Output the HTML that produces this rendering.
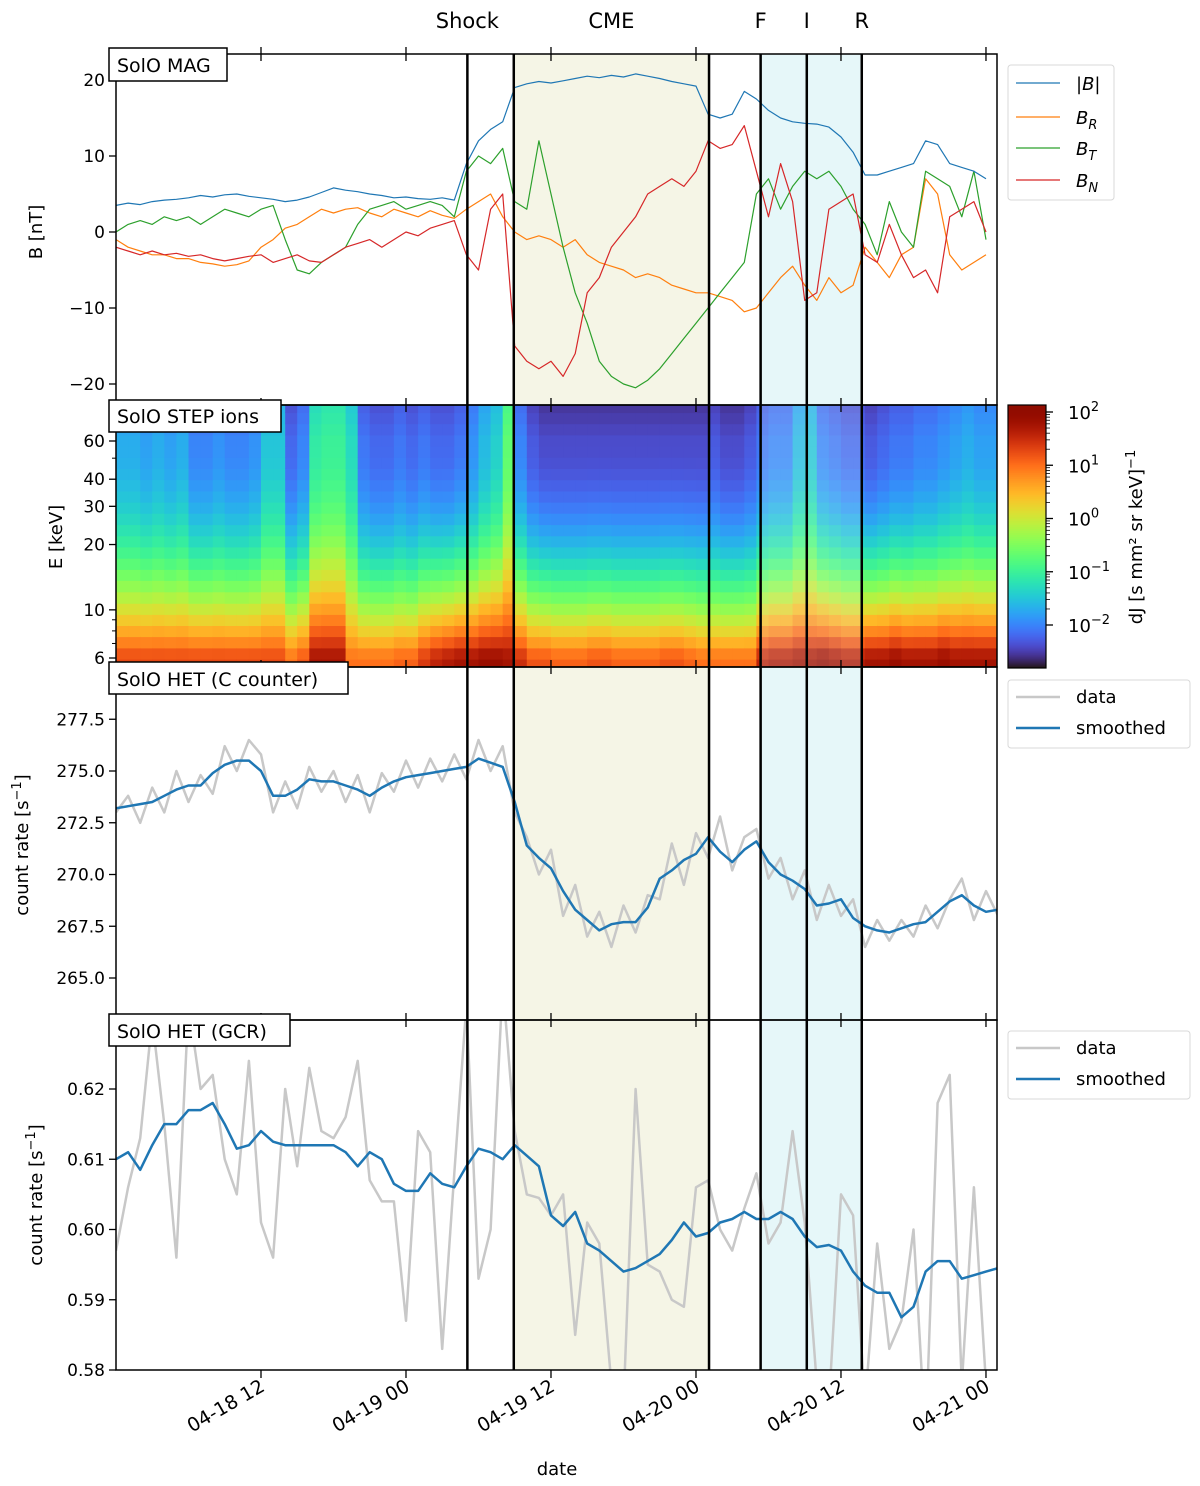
<!DOCTYPE html>
<html><head><meta charset="utf-8"><style>
html,body{margin:0;padding:0;background:#fff}
svg{display:block;font-family:"DejaVu Sans","Liberation Sans",sans-serif}
</style></head><body>
<svg id="fig" width="1200" height="1486" viewBox="0 0 1200 1486" xmlns="http://www.w3.org/2000/svg">
<defs>
<clipPath id="c1"><rect x="116" y="54" width="881" height="351"/></clipPath>
<clipPath id="c2"><rect x="116" y="405" width="881" height="262"/></clipPath>
<clipPath id="c3"><rect x="116" y="667" width="881" height="353"/></clipPath>
<clipPath id="c4"><rect x="116" y="1020" width="881" height="350"/></clipPath>
</defs>
<g id="bg"></g>
<g id="spec" clip-path="url(#c2)"></g>
<g id="mag" clip-path="url(#c1)"></g>
<g id="hetc" clip-path="url(#c3)"></g>
<g id="gcr" clip-path="url(#c4)"></g>
<g id="ov"></g>
<g id="axes"></g>
<g id="txt"></g>
</svg>
<script>
// ---- data (hours since 04-18 00:00) ----
const magB  = [3.5,3.8,3.6,4,4.2,4.3,4.5,4.8,4.6,4.9,5,4.7,4.5,4.3,4,4.2,4.6,5.2,5.8,5.5,5.3,5,4.8,4.5,4.6,4.4,4.3,4.5,4.2,9,12,13.5,14.5,19,19.5,19.8,19.6,19.9,20.2,20.5,20.3,20.6,20.4,20.8,20.5,20.2,19.8,19.5,19.2,15.5,15,15.5,18.5,17.5,16,15,14.5,14.3,14.2,13.8,12.5,10.5,7.5,7.5,8,8.5,9,12,11.5,9,8.5,8,7];
const magBR = [-1,-2,-2.5,-3,-3,-3.5,-3.5,-4,-4.2,-4.5,-4.3,-3.8,-2,-1,0.5,1,2,3,2.5,3,3.2,2.5,2,3,2.5,2,2.8,2.2,1.8,3,4,5,2,0,-1,-0.5,-1,-2,-1,-3,-4,-4.5,-5,-6,-5.5,-6,-7,-7.5,-8,-8,-8.5,-9,-10.5,-10,-8,-6,-4.5,-7,-9,-6,-8,-7,-2,-4,-6,-3,-2,7,5,-3,-5,-4,-3];
const magBT = [0,1,1.5,1,2,1.5,2,1,2,3,2.5,2,3,3.5,-1,-5,-5.5,-4,-3,-2,1,3,3.5,4,3,3.5,4,3.5,2,8,10,9,11,4,3,12,5,-2,-8,-12,-17,-19,-20,-20.5,-19.5,-18,-16,-14,-12,-10,-8,-6,-4,5,7,3,6,8,7,8,6,3,1,-3,4,0,-2,8,7,6,2,8,-1];
const magBN = [-2,-2.5,-3,-2.5,-3,-2.8,-3.2,-3,-3.5,-3.8,-3.5,-3.2,-3,-4,-3.5,-3,-3.8,-4,-3,-2,-1.5,-1,-2,-1,0,-0.5,0.5,1,1.5,-3,-5,3,5,-15,-17,-18,-17,-19,-16,-8,-6,-2,0,2,5,6,7,6,8,12,11,11.5,14,8,2,9,4,-9,-8,3,4,5,-3,-4,1,-3,-6,-5,-8,2,3,4,0];
const stepE = [5.6,6.3,7.1,8.0,9.0,10.1,11.4,12.9,14.5,16.3,18.4,20.7,23.3,26.3,29.6,33.3,37.5,42.3,47.6,53.6,60.4,68,76.6,86];
const stepLow  = [1.3,1.3,1.3,1.3,1.3,1.3,1.3,1.3,1.3,1.3,1.3,1.3,1.3,1.3,1.0,1.2,1.8,1.8,1.8,1.0,1.0,1.0,1.0,1.1,1.1,1.4,1.6,1.7,1.8,1.8,1.9,1.9,1.8,1.5,1.2,1.2,1.1,1.1,1.1,1.2,1.2,1.1,1.1,1.1,1.1,1.2,1.2,1.1,1.0,1.0,1.0,1.0,1.0,1.6,1.7,1.7,1.8,1.8,1.9,1.8,1.7,1.7,1.8,1.8,1.9,1.8,1.8,1.8,1.9,1.8,1.8,1.8,1.8];
const stepHigh = [-1.7,-1.7,-1.8,-1.7,-1.8,-1.7,-2.0,-2.0,-1.9,-2.0,-2.0,-1.9,-1.5,-1.5,-2.2,-2.0,-1.1,-1.0,-1.0,-1.3,-2.1,-2.2,-2.2,-2.1,-2.2,-2.1,-2.2,-2.2,-2.1,-1.9,-1.6,-1.4,-0.7,-2.0,-2.3,-2.4,-2.4,-2.4,-2.4,-2.4,-2.4,-2.4,-2.4,-2.4,-2.4,-2.4,-2.4,-2.4,-2.4,-2.3,-2.4,-2.4,-2.3,-2.1,-2.0,-2.0,-1.6,-1.5,-2.0,-2.1,-2.2,-2.2,-2.3,-2.2,-2.1,-2.1,-2.0,-2.0,-1.9,-1.8,-1.7,-1.8,-1.8];
const hetSmooth = [273.2,273.3,273.4,273.5,273.8,274.1,274.3,274.3,274.9,275.3,275.5,275.5,275.0,273.8,273.8,274.1,274.6,274.5,274.5,274.3,274.1,273.8,274.2,274.5,274.7,274.8,274.9,275.0,275.1,275.2,275.6,275.4,275.2,273.5,271.4,270.8,270.3,269.2,268.3,267.8,267.3,267.6,267.7,267.7,268.4,269.8,270.2,270.7,271.0,271.8,271.1,270.6,271.2,271.6,270.6,270.0,269.7,269.3,268.5,268.6,268.8,267.9,267.5,267.3,267.2,267.4,267.6,267.7,268.2,268.7,269.0,268.5,268.2,268.3];
const hetData = [273.0,273.8,272.5,274.2,273.0,275.0,273.5,274.8,273.9,276.2,275.0,276.5,275.8,273.0,274.5,273.2,275.2,274.0,275.0,273.5,274.8,273.0,274.9,274.0,275.5,274.2,275.6,274.5,275.8,274.6,276.5,275.0,276.2,273.0,271.8,270.0,271.2,268.0,269.5,267.0,268.2,266.5,268.5,267.2,269.0,268.8,271.5,269.5,272.0,270.8,272.8,270.2,271.8,272.2,269.8,270.8,268.8,270.2,267.8,269.5,268.0,268.8,266.5,267.8,266.8,267.8,267.0,268.5,267.4,268.8,269.8,267.8,269.2,268.0];
const gcrSmooth = [0.610,0.611,0.6085,0.612,0.615,0.615,0.617,0.617,0.618,0.615,0.6115,0.612,0.614,0.6125,0.612,0.612,0.612,0.612,0.612,0.611,0.609,0.611,0.610,0.6065,0.6055,0.6055,0.608,0.6065,0.606,0.609,0.6115,0.611,0.610,0.612,0.6105,0.609,0.602,0.6005,0.6025,0.598,0.597,0.5955,0.594,0.5945,0.5955,0.5965,0.5985,0.601,0.599,0.5995,0.601,0.6015,0.6025,0.6015,0.6015,0.6025,0.6015,0.599,0.5975,0.5978,0.597,0.594,0.592,0.591,0.591,0.5875,0.589,0.594,0.5955,0.5955,0.593,0.5935,0.594,0.5945];
const gcrData = [0.597,0.606,0.613,0.63,0.615,0.596,0.632,0.62,0.622,0.61,0.605,0.624,0.601,0.596,0.620,0.609,0.623,0.614,0.613,0.616,0.624,0.607,0.604,0.604,0.587,0.614,0.611,0.583,0.608,0.632,0.593,0.6,0.635,0.614,0.605,0.6045,0.602,0.605,0.585,0.601,0.598,0.578,0.575,0.62,0.595,0.594,0.590,0.589,0.606,0.607,0.600,0.597,0.603,0.608,0.598,0.601,0.614,0.601,0.578,0.575,0.605,0.602,0.575,0.598,0.583,0.587,0.60,0.57,0.618,0.622,0.578,0.606,0.578,0.57];
const eventHours = [29.08,32.92,49.08,53.35,57.17,61.72];
const eventLabels = ["Shock","CME","F","I","R"];
const xTickHours = [12,24,36,48,60,72];
const xTickLabels = ["04-18 12","04-19 00","04-19 12","04-20 00","04-20 12","04-21 00"];
const magTicks = [20,10,0,-10,-20];
const stepTicks = [6,10,20,30,40,60];
const cbTicks = [2,1,0,-1,-2];
const hetTicks = [265,267.5,270,272.5,275,277.5];
const gcrTicks = [0.58,0.59,0.60,0.61,0.62];

const NS="http://www.w3.org/2000/svg";
function mk(tag,attrs,parent){const e=document.createElementNS(NS,tag);for(const k in attrs)e.setAttribute(k,attrs[k]);if(parent)document.getElementById(parent).appendChild(e);return e;}
const X0=116,X1=997;
const xs=h=>X0+h*12.083;
const yMag=v=>232-v*7.6;
const yE=e=>658-(Math.log10(e)-Math.log10(6))*217;
const yHet=v=>978-(v-265)*20.7;
const yGcr=v=>1370-(v-0.58)*7025;
const yCb=l=>625-(l+2)*53.25;
const P=[[54,405],[405,667],[667,1020],[1020,1370]];

[P[0],P[2],P[3]].forEach(p=>{
  const r1=mk('rect',{x:xs(eventHours[1]),y:p[0],width:xs(eventHours[2])-xs(eventHours[1]),height:p[1]-p[0],fill:'#f5f5e6'},'bg');
  
  
  const r2=mk('rect',{x:xs(eventHours[3]),y:p[0],width:xs(eventHours[5])-xs(eventHours[3]),height:p[1]-p[0],fill:'#e6f7f9'},'bg');
  
  
});

function line(arr,xf,yf,color,w,g,name){
  const pts=arr.map((v,i)=>xf(i).toFixed(1)+','+yf(v).toFixed(1)).join(' ');
  const pl=mk('polyline',{points:pts,fill:'none',stroke:color,'stroke-width':w,'stroke-linejoin':'round'},g);
  
  
}
line(magBR,xs,yMag,'#ff7f0e',1.2,'mag','br-line');
line(magBT,xs,yMag,'#2ca02c',1.2,'mag','bt-line');
line(magBN,xs,yMag,'#d62728',1.2,'mag','bn-line');
line(magB,xs,yMag,'#1f77b4',1.2,'mag','b-magnitude-line');
line(hetData,xs,yHet,'#c8c8c8',2.5,'hetc','het-c-data-line');
line(hetSmooth,xs,yHet,'#1f77b4',2.5,'hetc','het-c-smoothed-line');
line(gcrData,xs,yGcr,'#c8c8c8',2.5,'gcr','gcr-data-line');
line(gcrSmooth,xs,yGcr,'#1f77b4',2.5,'gcr','gcr-smoothed-line');

function turbo(t){t=Math.max(0,Math.min(1,t));
 const r=0.13572138+t*(4.61539260+t*(-42.66032258+t*(132.13108234+t*(-152.94239396+t*59.28637943))));
 const g=0.09140261+t*(2.19418839+t*(4.84296658+t*(-14.18503333+t*(4.27729857+t*2.82956604))));
 const b=0.10667330+t*(12.64194608+t*(-60.58204836+t*(110.36276771+t*(-89.90310912+t*27.34824973))));
 const c=v=>Math.round(Math.max(0,Math.min(1,v))*255);return `rgb(${c(r)},${c(g)},${c(b)})`;}
const LMIN=-2.81,LMAX=2.13;
const eEdges=stepE.map((e,i)=>i==0?5.35:Math.sqrt(e*stepE[i-1]));eEdges.push(92);
for(let t=0;t<stepLow.length;t++){
  for(let k=0;k<stepE.length;k++){
    let f=Math.log10(stepE[k]/6); f=Math.max(0,Math.min(1.15,f));
    const q=Math.max(0,1-f);
    const l=stepHigh[t]+(stepLow[t]-stepHigh[t])*q*q - (f>1?0.2*(f-1)*5:0);
    const y0=yE(eEdges[k+1]),y1=yE(eEdges[k]);
    const r=mk('rect',{x:xs(t).toFixed(1),y:y0.toFixed(1),width:13.1,height:(y1-y0+0.6).toFixed(1),fill:turbo((l-LMIN)/(LMAX-LMIN))},'spec');
    
    
  }
}
const fo=mk('rect',{x:xs(eventHours[3]),y:405,width:xs(eventHours[5])-xs(eventHours[3]),height:262,fill:'#e6f7f9','fill-opacity':0.2},'spec');



eventHours.forEach(h=>{
  const l=mk('line',{x1:xs(h),x2:xs(h),y1:54,y2:1370,stroke:'#000','stroke-width':2.5},'ov');
  
  
});
const labX=[xs(eventHours[0]),(xs(eventHours[1])+xs(eventHours[2]))/2,xs(eventHours[3]),xs(eventHours[4]),xs(eventHours[5])];
eventLabels.forEach((s,i)=>{
  const t=mk('text',{x:labX[i],y:28,'text-anchor':'middle','font-size':21},'txt');t.textContent=s;
  
  
});

P.forEach(p=>{
  const r=mk('rect',{x:X0,y:p[0],width:X1-X0,height:p[1]-p[0],fill:'none',stroke:'#000','stroke-width':1.5},'axes');
  
  
  xTickHours.forEach(h=>{
    mk('line',{x1:xs(h),x2:xs(h),y1:p[0]-7,y2:p[0]+7,stroke:'#000','stroke-width':1.3},'axes');
  });
});
xTickHours.forEach((h,i)=>{
  mk('line',{x1:xs(h),x2:xs(h),y1:1370,y2:1378,stroke:'#000','stroke-width':1.3},'axes');
  const x=xs(h)+5,y=1390;
  const t=mk('text',{x:x,y:y,'text-anchor':'end','font-size':19,transform:`rotate(-30 ${x} ${y})`},'txt');t.textContent=xTickLabels[i];
  
  
});
function yticks(vals,yf,fmt,name){
  vals.forEach(v=>{const y=yf(v);
    mk('line',{x1:X0-7,x2:X0,y1:y,y2:y,stroke:'#000','stroke-width':1.3},'axes');
    const t=mk('text',{x:X0-11,y:y+6,'text-anchor':'end','font-size':17},'txt');t.textContent=fmt(v);
    
    
  });
}
yticks(magTicks,yMag,v=>v<0?'\u2212'+(-v):''+v,'mag-y-tick');
yticks(stepTicks,yE,v=>''+v,'step-y-tick');
[7,8,9,50,70,80].forEach(v=>mk('line',{x1:X0-4,x2:X0,y1:yE(v),y2:yE(v),stroke:'#000','stroke-width':1},'axes'));
yticks(hetTicks,yHet,v=>v.toFixed(1),'het-y-tick');
yticks(gcrTicks,yGcr,v=>v.toFixed(2),'gcr-y-tick');

for(let i=0;i<132;i++){
  const l0=LMIN+(LMAX-LMIN)*i/132,y=yCb(l0);
  mk('rect',{x:1008,y:(y-2.2).toFixed(1),width:38,height:2.6,fill:turbo(i/131)},'axes');
}
const cbf=mk('rect',{x:1008,y:405,width:38,height:263,fill:'none',stroke:'#000','stroke-width':1.2},'axes');


cbTicks.forEach(v=>{const y=yCb(v);
  mk('line',{x1:1046,x2:1053,y1:y,y2:y,stroke:'#000','stroke-width':1.3},'axes');
  const t=mk('text',{x:1068,y:y+7,'font-size':18},'txt');
  t.innerHTML='10<tspan dy="-8" font-size="13">'+(v<0?'\u2212'+(-v):v)+'</tspan>';
  
  
  for(let m=2;m<10;m++){const ym=yCb(v+Math.log10(m));if(ym>405&&ym<668)mk('line',{x1:1046,x2:1050,y1:ym,y2:ym,stroke:'#000','stroke-width':0.8},'axes');}
});
</script>
<svg style="position:absolute;left:0;top:0" width="1200" height="1486" xmlns="http://www.w3.org/2000/svg" font-family="DejaVu Sans, Liberation Sans, sans-serif">
 <g>
  <rect x="109" y="48" width="118" height="33" fill="#fff" stroke="#000" stroke-width="1.5"/>
  <text x="117" y="72" font-size="19">SolO MAG</text>
  <rect x="109" y="400" width="172" height="32" fill="#fff" stroke="#000" stroke-width="1.5"/>
  <text x="117" y="423" font-size="19">SolO STEP ions</text>
  <rect x="109" y="662" width="239" height="32" fill="#fff" stroke="#000" stroke-width="1.5"/>
  <text x="117" y="686" font-size="19">SolO HET (C counter)</text>
  <rect x="109" y="1014" width="181" height="32" fill="#fff" stroke="#000" stroke-width="1.5"/>
  <text x="117" y="1038" font-size="19">SolO HET (GCR)</text>
 </g>
 <g>
  <rect x="1008" y="65" width="106" height="135" rx="3" fill="#fff" stroke="#d8d8d8"/>
  <line x1="1016" y1="83" x2="1060" y2="83" stroke="#1f77b4" stroke-width="1.3"/>
  <text x="1076" y="90" font-size="18" font-style="italic">|B|</text>
  <line x1="1016" y1="117" x2="1060" y2="117" stroke="#ff7f0e" stroke-width="1.3"/>
  <text x="1076" y="124" font-size="18" font-style="italic">B<tspan dy="5" font-size="13">R</tspan></text>
  <line x1="1016" y1="148" x2="1060" y2="148" stroke="#2ca02c" stroke-width="1.3"/>
  <text x="1076" y="155" font-size="18" font-style="italic">B<tspan dy="5" font-size="13">T</tspan></text>
  <line x1="1016" y1="180" x2="1060" y2="180" stroke="#d62728" stroke-width="1.3"/>
  <text x="1076" y="187" font-size="18" font-style="italic">B<tspan dy="5" font-size="13">N</tspan></text>
 </g>
 <g>
  <rect x="1008" y="680" width="182" height="68" rx="3" fill="#fff" stroke="#d8d8d8"/>
  <line x1="1016" y1="697" x2="1060" y2="697" stroke="#c8c8c8" stroke-width="2.5"/>
  <text x="1076" y="703" font-size="18">data</text>
  <line x1="1016" y1="728" x2="1060" y2="728" stroke="#1f77b4" stroke-width="2.5"/>
  <text x="1076" y="734" font-size="18">smoothed</text>
 </g>
 <g>
  <rect x="1008" y="1031" width="182" height="68" rx="3" fill="#fff" stroke="#d8d8d8"/>
  <line x1="1016" y1="1048" x2="1060" y2="1048" stroke="#c8c8c8" stroke-width="2.5"/>
  <text x="1076" y="1054" font-size="18">data</text>
  <line x1="1016" y1="1079" x2="1060" y2="1079" stroke="#1f77b4" stroke-width="2.5"/>
  <text x="1076" y="1085" font-size="18">smoothed</text>
 </g>
 <g>
  <text x="0" y="0" font-size="18" text-anchor="middle" transform="translate(42 232) rotate(-90)">B [nT]</text>
  <text x="0" y="0" font-size="18" text-anchor="middle" transform="translate(62 537) rotate(-90)">E [keV]</text>
  <text x="0" y="0" font-size="18" text-anchor="middle" transform="translate(28 845) rotate(-90)">count rate [s<tspan dy="-7" font-size="13">−1</tspan><tspan dy="7">]</tspan></text>
  <text x="0" y="0" font-size="18" text-anchor="middle" transform="translate(42 1195) rotate(-90)">count rate [s<tspan dy="-7" font-size="13">−1</tspan><tspan dy="7">]</tspan></text>
  <text x="0" y="0" font-size="18" text-anchor="middle" transform="translate(1142 537) rotate(-90)">dJ [s mm² sr keV]<tspan dy="-7" font-size="13">−1</tspan></text>
  <text x="557" y="1475" font-size="18" text-anchor="middle">date</text>
 </g>
</svg>
</body></html>
